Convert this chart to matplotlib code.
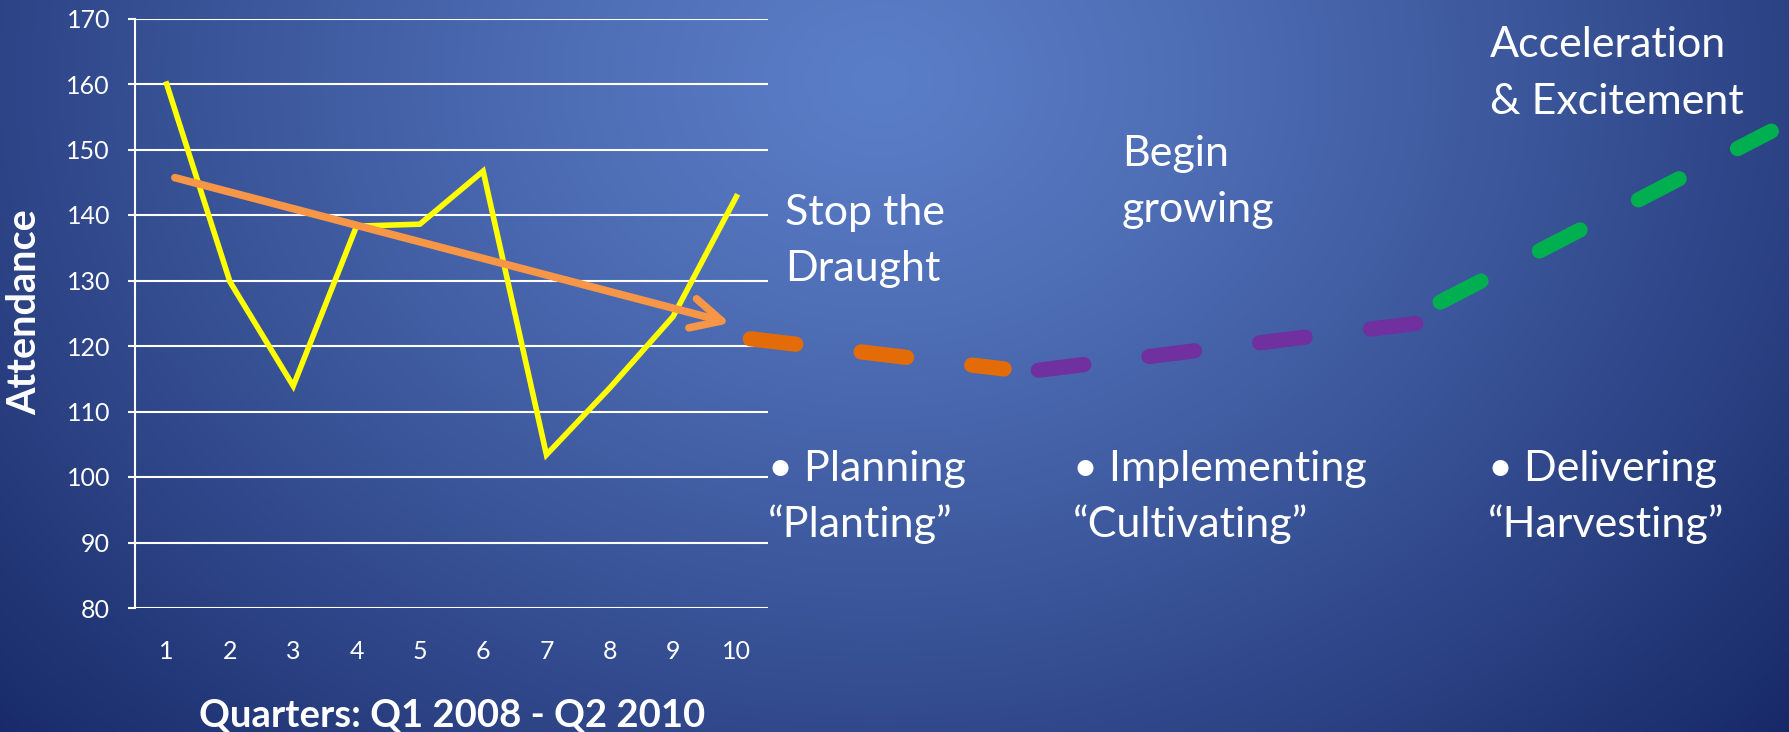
import numpy as np
import matplotlib.pyplot as plt

# attendance per quarter (Q1 2008 .. Q2 2010)
quarters = [1, 2, 3, 4, 5, 6, 7, 8, 9, 10]
attendance = [160, 129.8, 113.9, 138.3, 138.6, 146.7, 103.4, 113.6, 124.5, 142.8]
yticks = [80, 90, 100, 110, 120, 130, 140, 150, 160, 170]

# downward trend arrow
trend_x = [1.13, 9.9]
trend_y = [145.7, 123.5]

# projected path: planning / implementing / delivering
plan_x = [10.22, 14.23]
plan_y = [121.1, 116.5]
impl_x = [14.77, 20.78]
impl_y = [116.3, 123.5]
deliv_x = [21.12, 26.35]
deliv_y = [126.7, 152.8]

W, H = 1789, 732
fig = plt.figure(figsize=(W / 100, H / 100), dpi=100)

# background radial gradient
bg = fig.add_axes([0, 0, 1, 1])
yy, xx = np.mgrid[0:H, 0:W]
d = np.sqrt(((xx - 880) / 1250.0) ** 2 + ((yy - 80) / 1000.0) ** 2)
t = np.clip(d, 0, 1) ** 1.2
inner = np.array([91, 126, 200]) / 255.0
outer = np.array([21, 38, 100]) / 255.0
img = inner[None, None, :] * (1 - t[..., None]) + outer[None, None, :] * t[..., None]
bg.imshow(img, aspect='auto', extent=[0, 1, 0, 1])
bg.set_axis_off()

fam = ['Lato', 'DejaVu Sans']

ax = fig.add_axes([135 / W, 1 - 608 / H, (768 - 135) / W, (608 - 18.5) / H])
ax.set_facecolor('none')
ax.set_xlim(0.5, 10.5)
ax.set_ylim(80, 170)
ax.set_yticks(yticks)
ax.set_xticks(quarters)
ax.grid(axis='y', color='white', linewidth=1.5)
ax.set_axisbelow(True)
for s in ['top', 'right', 'bottom']:
    ax.spines[s].set_visible(False)
ax.spines['left'].set_color('white')
ax.spines['left'].set_linewidth(1.5)
ax.tick_params(axis='y', colors='white', length=5, width=1.5, pad=13, labelsize=18)
ax.tick_params(axis='x', colors='white', length=0, pad=23, labelsize=18)
for lab in ax.get_xticklabels() + ax.get_yticklabels():
    lab.set_family(fam)

ax.plot(quarters, attendance, color='#FFFF00', linewidth=4, solid_joinstyle='miter')

ax.annotate('', xy=(trend_x[1], trend_y[1]), xytext=(trend_x[0], trend_y[0]),
            arrowprops=dict(arrowstyle='->', color='#F79646', lw=5.5,
                            mutation_scale=54, shrinkA=0, shrinkB=0,
                            capstyle='round', joinstyle='round'))

dash = (0, (3.0, 4.3))
for xs, ys, c in [(plan_x, plan_y, '#E36C09'), (impl_x, impl_y, '#7030A0'),
                  (deliv_x, deliv_y, '#00B050')]:
    ax.plot(xs, ys, color=c, linewidth=11, linestyle=dash,
            dash_capstyle='round', clip_on=False)

fig.text(452 / W, 1 - 727 / H, 'Quarters: Q1 2008 - Q2 2010', color='white',
         fontsize=27.5, fontweight='bold', family=fam, ha='center', va='baseline')
fig.text(25 / W, 1 - 312 / H, 'Attendance', color='white', fontsize=28.5,
         fontweight='bold', family=fam, rotation=90, ha='center', va='center')

notes = [
    (785, 225, ['Stop the', 'Draught']),
    (1122, 166, ['Begin', 'growing']),
    (1490, 57, ['Acceleration', '& Excitement']),
    (768, 481, ['\u2022 Planning', '\u201cPlanting\u201d']),
    (1073, 481, ['\u2022 Implementing', '\u201cCultivating\u201d']),
    (1488, 481, ['\u2022 Delivering', '\u201cHarvesting\u201d']),
]
for x, y, lines in notes:
    for i, line in enumerate(lines):
        fig.text(x / W, 1 - (y + 56.5 * i) / H, line, color='white', fontsize=31,
                 family=fam, ha='left', va='baseline')

plt.savefig('out.png', dpi=100)
